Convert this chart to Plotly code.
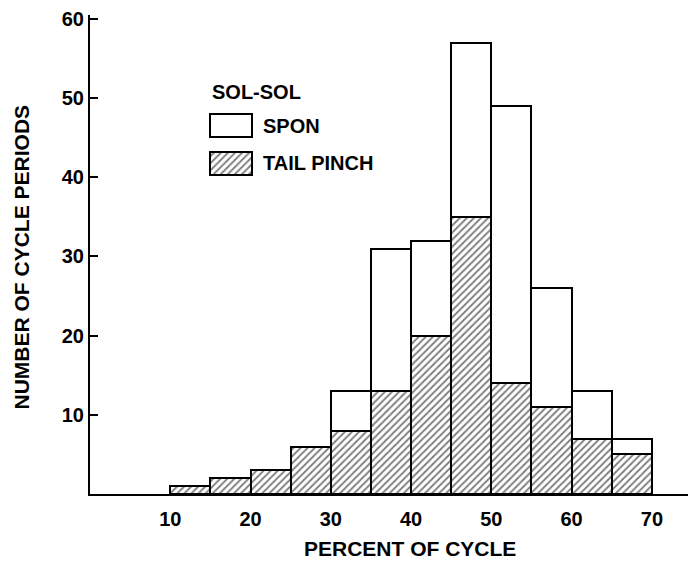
import plotly.graph_objects as go

# ---- data ----
bin_left = [10, 15, 20, 25, 30, 35, 40, 45, 50, 55, 60, 65]
bin_width = 5
tail_pinch = [1, 2, 3, 6, 8, 13, 20, 35, 14, 11, 7, 5]
total = [1, 2, 3, 6, 13, 31, 32, 57, 49, 26, 13, 7]
spon = [t - p if t - p > 0 else None for t, p in zip(total, tail_pinch)]
x_ticks = [10, 20, 30, 40, 50, 60, 70]
y_ticks = [10, 20, 30, 40, 50, 60]

W, H = 696, 569
L, R, T, B = 90, 8, 10, 75
FONT = "Liberation Sans"
centers = [x + bin_width / 2 for x in bin_left]

hatch = dict(shape="/", fgcolor="black", bgcolor="white", size=5, solidity=0.38)
outline = dict(color="black", width=2)

fig = go.Figure()
fig.add_trace(go.Bar(x=centers, y=tail_pinch, width=bin_width,
                     marker=dict(color="white", pattern=hatch, line=outline),
                     name="TAIL PINCH", showlegend=False))
fig.add_trace(go.Bar(x=centers, y=spon, width=bin_width,
                     marker=dict(color="white", line=outline),
                     name="SPON", showlegend=False))

# legend boxes on a pixel-scaled overlay axis
fig.add_trace(go.Bar(x=[231], y=[23], base=[110], width=[42], xaxis="x2", yaxis="y2",
                     marker=dict(color="white", line=dict(color="black", width=2)),
                     showlegend=False, hoverinfo="skip"))
fig.add_trace(go.Bar(x=[231], y=[24], base=[148], width=[42], xaxis="x2", yaxis="y2",
                     marker=dict(color="white", pattern=hatch, line=dict(color="black", width=2)),
                     showlegend=False, hoverinfo="skip"))

def px(xp):
    return (xp - L) / (W - L - R)

def py(yp):
    return (H - B - yp) / (H - T - B)

def tf(size):
    return dict(family=FONT, size=size, color="black", weight="bold")

ann = [
    dict(text="NUMBER OF CYCLE PERIODS", x=px(21), y=py(255), xref="paper", yref="paper",
         textangle=-90, showarrow=False, font=tf(21), xanchor="center", yanchor="middle"),
    dict(text="PERCENT OF CYCLE", x=px(410), y=py(549), xref="paper", yref="paper",
         showarrow=False, font=tf(21), xanchor="center", yanchor="middle"),
    dict(text="SOL-SOL", x=px(210), y=py(88), xref="paper", yref="paper",
         showarrow=False, font=tf(20), xanchor="left", yanchor="middle"),
    dict(text="SPON", x=px(261), y=py(122), xref="paper", yref="paper",
         showarrow=False, font=tf(20), xanchor="left", yanchor="middle"),
    dict(text="TAIL PINCH", x=px(261), y=py(160), xref="paper", yref="paper",
         showarrow=False, font=tf(20), xanchor="left", yanchor="middle"),
]

fig.update_layout(
    width=W, height=H,
    margin=dict(l=L, r=R, t=T, b=B, pad=0),
    paper_bgcolor="white", plot_bgcolor="white",
    barmode="stack", bargap=0,
    font=dict(family=FONT, color="black"),
    xaxis=dict(range=[0, 74.5], tickvals=x_ticks, ticks="", showgrid=False, zeroline=False,
               showline=True, linecolor="black", linewidth=2, ticklabelstandoff=6,
               tickfont=tf(20)),
    yaxis=dict(range=[0, 60.5], tickvals=y_ticks, ticks="inside", ticklen=8, tickwidth=1.5,
               tickcolor="black", showgrid=False, zeroline=False,
               showline=True, linecolor="black", linewidth=2,
               tickfont=tf(20)),
    xaxis2=dict(range=[L, W - R], overlaying="x", visible=False),
    yaxis2=dict(range=[H - B, T], overlaying="y", visible=False),
    annotations=ann,
    showlegend=False,
)

fig.write_html("out.html")
